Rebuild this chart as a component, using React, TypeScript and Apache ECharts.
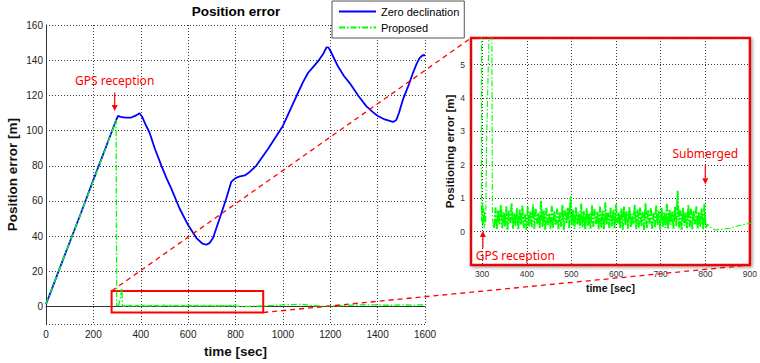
import React, { useEffect, useRef } from "react";
import * as echarts from "echarts";

// ---- data ----
const zeroDeclination: [number, number][] = [
  [0, 1.3], [25, 10], [50, 19], [100, 36.5], [150, 54], [200, 72], [250, 89.5], [285, 102],
  [298, 106.5], [304, 108.3], [315, 107.8], [335, 107.3], [360, 107.4], [380, 108.6], [395, 109.8],
  [405, 108], [420, 103.5], [437, 98.9], [460, 89.5], [487, 80.1], [510, 72.5], [529, 67],
  [564, 55.7], [600, 46.3], [635, 38.9], [660, 35.8], [677, 35.1], [690, 36], [705, 38.9],
  [733, 50], [761, 61.4], [782, 70.8], [800, 73], [815, 73.8], [839, 74.5], [860, 76.5],
  [888, 80.1], [937, 89.5], [1000, 102.6], [1057, 119.5], [1085, 127.5], [1106, 132.7],
  [1130, 136.5], [1148, 139.3], [1170, 143.5], [1184, 147.3], [1192, 147.3], [1200, 145.5],
  [1233, 136.4], [1258, 131], [1282, 127], [1320, 119.5], [1352, 113.9], [1380, 110.5],
  [1401, 108.3], [1430, 106.3], [1465, 104.9], [1479, 106], [1490, 110], [1507, 117.7],
  [1530, 125.5], [1549, 132.7], [1565, 138], [1577, 141.2], [1590, 142.8], [1600, 142.8],
];

const proposedHead: [number, number][] = [
  [0, 1.5], [50, 19], [100, 36.5], [150, 54], [200, 71.5], [250, 89], [280, 100], [296, 106],
  [298.5, 0.3], [299.5, 0.8], [300.5, 0.15], [301.5, 0.9], [302.5, 0.2], [303.5, 0.7],
  [304.5, 0.1], [305.5, 0.6], [306.5, 0.2], [308, 0.3], [310, 2.7], [315.5, 6], [319, 10.5],
  [321, 9.5], [323, 0.4], [325, 0.2],
];

// samples every 3 s from t = 327 s to 801 s
const NOISE_START = 327;
const NOISE_STEP = 3;
const proposedNoise: number[] = [
  0.12, 0.72, 0.08, 0.65, 0.22, 0.81, 0.10, 0.58, 0.15, 0.76,
  0.06, 0.62, 0.25, 0.85, 0.09, 0.55, 0.18, 0.70, 0.07, 0.66,
  0.20, 0.78, 0.11, 0.52, 0.05, 0.74, 0.16, 0.60, 0.13, 0.82,
  0.08, 0.68, 0.24, 0.57, 0.10, 0.92, 0.14, 0.63, 0.06, 0.71,
  0.19, 0.54, 0.09, 0.77, 0.12, 0.61, 0.21, 0.69, 0.07, 0.58,
  0.15, 0.80, 0.05, 0.64, 0.26, 0.72, 0.11, 1.05, 0.17, 0.66,
  0.08, 0.73, 0.22, 0.59, 0.10, 0.84, 0.13, 0.62, 0.06, 0.70,
  0.18, 0.55, 0.09, 0.79, 0.14, 0.67, 0.23, 0.60, 0.07, 0.75,
  0.12, 0.63, 0.05, 0.88, 0.20, 0.57, 0.10, 0.71, 0.16, 0.65,
  0.08, 0.82, 0.25, 0.58, 0.11, 0.69, 0.06, 0.76, 0.19, 0.61,
  0.09, 0.74, 0.14, 0.53, 0.22, 0.80, 0.07, 0.66, 0.12, 0.72,
  0.17, 0.59, 0.05, 0.85, 0.10, 0.64, 0.24, 0.70, 0.08, 0.56,
  0.13, 0.78, 0.20, 0.62, 0.06, 0.73, 0.15, 0.58, 0.11, 0.83,
  0.07, 0.67, 0.21, 0.60, 0.09, 0.75, 0.16, 1.22, 0.12, 0.64,
  0.05, 0.71, 0.18, 0.57, 0.10, 0.80, 0.13, 0.68, 0.07, 0.62,
  0.22, 0.76, 0.09, 0.59, 0.15, 0.70, 0.06, 0.83, 0.11,
];

const proposedTail: [number, number][] = [
  [805, 0.22], [812, 0.13], [823, 0.05], [842, 0.08], [856, 0.1], [871, 0.17], [889, 0.22],
  [900, 0.25], [930, 0.4], [960, 0.6], [1000, 0.9], [1040, 1.1], [1080, 1.3], [1110, 0.7],
  [1150, 0.3], [1200, 0.2], [1250, 0.5], [1300, 0.8], [1350, 1.0], [1400, 0.9], [1450, 0.7],
  [1500, 0.9], [1550, 0.8], [1600, 1.0],
];

const zoomBox = { x0: 277, y0: 8.8, x1: 917, y1: -3.4 };

const FONT = "Liberation Sans, Arial, sans-serif";
const RED = "#ff0000";
const GREEN = "#00ff00";
const BLUE = "#0000ff";

export default function App() {
  const ref = useRef<HTMLDivElement>(null);

  useEffect(() => {
    const chart = echarts.init(ref.current!, null, { renderer: "svg" });

    const noise: [number, number][] = proposedNoise.map(
      (v, i) => [NOISE_START + i * NOISE_STEP, v] as [number, number]
    );
    const proposed: [number, number][] = [...proposedHead, ...noise, ...proposedTail];
    const insetNoise: [number, number][] = [
      proposedHead[proposedHead.length - 1],
      ...noise,
      proposedTail[0],
    ];
    const insetHead = proposedHead;
    const insetTail: [number, number][] = [noise[noise.length - 1], ...proposedTail];

    const gridLine = { show: true, lineStyle: { color: "#3a3a3a", type: [1, 2], width: 1 } };
    const axisLine = { show: true, lineStyle: { color: "#333", width: 1 } };
    const plain = (v: number) => String(v);

    const insetSeries = (data: [number, number][], width: number, dash: number[]) => ({
      name: "Proposed", type: "line", xAxisIndex: 1, yAxisIndex: 1,
      data, symbol: "none",
      lineStyle: { color: GREEN, width, type: dash },
      itemStyle: { color: GREEN },
    });

    chart.setOption({
      animation: false,
      backgroundColor: "#fff",
      title: {
        text: "Position error",
        left: 236,
        top: 4,
        textAlign: "center",
        padding: 0,
        textStyle: { fontSize: 13.5, fontWeight: "bold", color: "#000", fontFamily: FONT },
      },
      legend: {
        data: ["Zero declination", "Proposed"],
        orient: "vertical",
        left: 332,
        top: 1,
        padding: [5, 5, 5, 6],
        itemWidth: 37,
        itemHeight: 12,
        itemGap: 5,
        selectedMode: false,
        backgroundColor: "#fff",
        borderColor: "#555",
        borderWidth: 1,
        itemStyle: { opacity: 0, borderWidth: 0 },
        textStyle: { fontSize: 11, color: "#000", fontFamily: FONT },
      },
      grid: [
        { left: 46, top: 25, width: 379, height: 302 },
        {
          left: 471, top: 38, width: 282, height: 227,
          show: true, backgroundColor: "#fff", borderColor: RED, borderWidth: 2.5,
          shadowColor: "rgba(0,0,0,0.35)", shadowBlur: 3, shadowOffsetX: 1.5, shadowOffsetY: 1.5,
        },
      ],
      xAxis: [
        {
          gridIndex: 0, type: "value", min: 0, max: 1600, interval: 200,
          axisLine, axisTick: { show: false },
          axisLabel: { color: "#222", fontSize: 10, fontFamily: FONT, margin: 5, formatter: plain },
          splitLine: gridLine,
          name: "time [sec]", nameLocation: "middle", nameGap: 19,
          nameTextStyle: { fontSize: 13.5, fontWeight: "bold", color: "#111", fontFamily: FONT },
        },
        {
          gridIndex: 1, type: "value", min: 275, max: 900, splitNumber: 6,
          axisLine: { show: false }, axisTick: { show: false },
          axisLabel: {
            color: "#333", fontSize: 8.5, fontFamily: FONT, margin: 4, showMinLabel: false, formatter: plain,
          },
          splitLine: gridLine,
          name: "time [sec]", nameLocation: "middle", nameGap: 15,
          nameTextStyle: { fontSize: 10.5, fontWeight: "bold", color: "#111", fontFamily: FONT },
        },
      ],
      yAxis: [
        {
          gridIndex: 0, type: "value", min: -10, max: 160, splitNumber: 8,
          axisLine, axisTick: { show: false },
          axisLabel: {
            color: "#222", fontSize: 10, fontFamily: FONT, margin: 3, showMinLabel: false, formatter: plain,
          },
          splitLine: gridLine,
          name: "Position error [m]", nameLocation: "middle", nameGap: 27, nameRotate: 90,
          nameTextStyle: { fontSize: 13.5, fontWeight: "bold", color: "#111", fontFamily: FONT },
        },
        {
          gridIndex: 1, type: "value", min: -1, max: 5.8, interval: 1,
          axisLine: { show: false }, axisTick: { show: false },
          axisLabel: {
            color: "#333", fontSize: 8.5, fontFamily: FONT, margin: 6,
            showMinLabel: false, showMaxLabel: false, formatter: plain,
          },
          splitLine: gridLine,
          name: "Positioning error [m]", nameLocation: "middle", nameGap: 14, nameRotate: 90,
          nameTextStyle: { fontSize: 11.5, fontWeight: "bold", color: "#111", fontFamily: FONT },
        },
      ],
      series: [
        {
          name: "Zero declination", type: "line", xAxisIndex: 0, yAxisIndex: 0,
          data: zeroDeclination, symbol: "none", smooth: false,
          lineStyle: { color: BLUE, width: 1.8 },
          itemStyle: { color: BLUE },
        },
        {
          name: "Proposed", type: "line", xAxisIndex: 0, yAxisIndex: 0,
          data: proposed, symbol: "none",
          lineStyle: { color: GREEN, width: 1.3, type: [6, 2, 1.5, 2] },
          itemStyle: { color: GREEN },
          markArea: {
            silent: true,
            label: { show: false },
            itemStyle: { color: "rgba(0,0,0,0)", borderColor: RED, borderWidth: 2 },
            data: [[{ xAxis: zoomBox.x0, yAxis: zoomBox.y0 }, { xAxis: zoomBox.x1, yAxis: zoomBox.y1 }]],
          },
        },
        insetSeries(insetHead, 1.1, [6, 2, 1.5, 2]),
        insetSeries(insetNoise, 1.9, [12, 1.5, 2, 1.5]),
        insetSeries(insetTail, 1.1, [6, 2, 1.5, 2]),
      ],
    });

    const px = (g: number, pt: [number, number]) =>
      chart.convertToPixel({ gridIndex: g } as any, pt) as number[];

    const arrow = (tail: number[], tip: number[]) => {
      const dir = tip[1] > tail[1] ? 1 : -1;
      const baseY = tip[1] - dir * 6;
      return [
        {
          type: "line", z: 100, silent: true,
          shape: { x1: tail[0], y1: tail[1], x2: tip[0], y2: baseY },
          style: { stroke: RED, lineWidth: 1.2 },
        },
        {
          type: "polygon", z: 100, silent: true,
          shape: { points: [[tip[0] - 3, baseY], [tip[0] + 3, baseY], [tip[0], tip[1]]] },
          style: { fill: RED },
        },
      ];
    };

    const annoFont = '12px "Noto Sans", sans-serif';
    const gpsMain = px(0, [290, 128.4]);
    const subm = px(1, [800, 2.35]);
    const gpsInset = px(1, [285.4, -0.73]);
    const c1a = px(0, [zoomBox.x0, zoomBox.y0]);
    const c1b = px(1, [275, 5.8]);
    const c2a = px(0, [zoomBox.x1, zoomBox.y1]);
    const c2b = px(1, [900, -1]);

    chart.setOption({
      graphic: [
        {
          type: "text", z: 100, silent: true, x: gpsMain[0], y: gpsMain[1],
          style: { text: "GPS reception", fill: RED, font: annoFont, textAlign: "center", textVerticalAlign: "middle" },
        },
        ...arrow(px(0, [290, 121.6]), px(0, [290, 111.1])),
        {
          type: "text", z: 100, silent: true, x: subm[0], y: subm[1],
          style: { text: "Submerged", fill: RED, font: annoFont, textAlign: "center", textVerticalAlign: "middle" },
        },
        ...arrow(px(1, [800, 1.99]), px(1, [800, 1.42])),
        {
          type: "text", z: 100, silent: true, x: gpsInset[0], y: gpsInset[1],
          style: { text: "GPS reception", fill: RED, font: annoFont, textAlign: "left", textVerticalAlign: "middle" },
        },
        ...arrow(px(1, [301.6, -0.49]), px(1, [301.6, 0.02])),
        {
          type: "line", z: 90, silent: true,
          shape: { x1: c1a[0], y1: c1a[1], x2: c1b[0], y2: c1b[1] },
          style: { stroke: RED, lineWidth: 1.3, lineDash: [5, 4] },
        },
        {
          type: "line", z: 90, silent: true,
          shape: { x1: c2a[0], y1: c2a[1], x2: c2b[0], y2: c2b[1] },
          style: { stroke: RED, lineWidth: 1.3, lineDash: [5, 4] },
        },
      ],
    });

    return () => chart.dispose();
  }, []);

  return (
    <div
      ref={ref}
      style={{ position: "fixed", left: 0, top: 0, width: 760, height: 363, background: "#fff" }}
    />
  );
}
